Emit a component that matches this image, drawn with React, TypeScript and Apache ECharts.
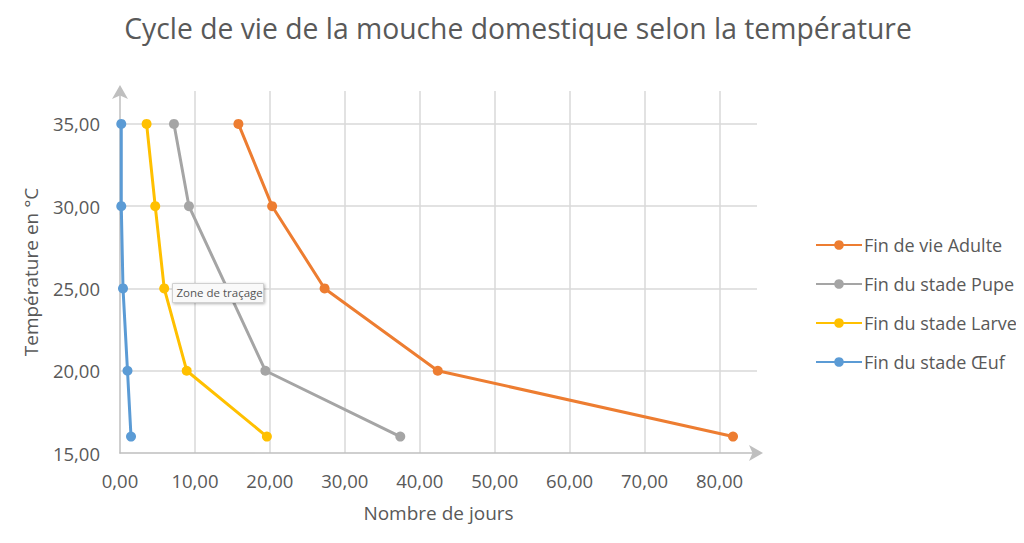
import React, { useEffect, useRef } from 'react';
import * as echarts from 'echarts';

// Temperatures (°C) shared by every stage
const temperatures = [35, 30, 25, 20, 16];

// Number of days, one per temperature
const adulteDays = [15.8, 20.3, 27.3, 42.4, 81.8];
const pupeDays = [7.2, 9.2, 14.3, 19.4, 37.4];
const larveDays = [3.55, 4.7, 5.9, 8.9, 19.6];
const oeufDays = [0.17, 0.17, 0.4, 1.0, 1.47];

const seriesNames = ['Fin de vie Adulte', 'Fin du stade Pupe', 'Fin du stade Larve', 'Fin du stade Œuf'];
const seriesColors = ['#ED7D31', '#A5A5A5', '#FFC000', '#5B9BD5'];

const FONT = "'Open Sans', 'Noto Sans', sans-serif";
const TEXT = '#595959';

const fmt = (v: number) => v.toFixed(2).replace('.', ',');

const App: React.FC = () => {
  const chartRef = useRef<HTMLDivElement>(null);

  useEffect(() => {
    if (!chartRef.current) return;
    const chart = echarts.init(chartRef.current, undefined, { renderer: 'svg' });

    const allDays = [adulteDays, pupeDays, larveDays, oeufDays];

    const option: echarts.EChartsOption = {
      animation: false,
      backgroundColor: '#ffffff',
      textStyle: { fontFamily: FONT },
      title: {
        text: 'Cycle de vie de la mouche domestique selon la température',
        left: 513,
        textAlign: 'center',
        top: 9,
        textStyle: { fontFamily: FONT, fontSize: 28.3, fontWeight: 'normal', color: TEXT },
      },
      legend: {
        orient: 'vertical',
        left: 810,
        top: 231,
        itemWidth: 46,
        itemHeight: 12,
        itemGap: 21,
        data: seriesNames,
        textStyle: { fontFamily: FONT, fontSize: 18, color: TEXT, padding: [0, 0, 0, -3] },
      },
      grid: { left: 120, right: 267, top: 91, bottom: 90 },
      xAxis: {
        type: 'value',
        min: 0,
        max: 85,
        interval: 10,
        name: 'Nombre de jours',
        nameLocation: 'middle',
        nameGap: 50,
        nameTextStyle: { fontFamily: FONT, fontSize: 19, color: TEXT },
        axisLine: {
          show: true,
          lineStyle: { color: '#BFBFBF', width: 1.5 },
          symbol: ['none', 'arrow'],
          symbolSize: [12, 14],
          symbolOffset: [0, 6],
        },
        axisTick: { show: false },
        axisLabel: {
          margin: 18,
          fontFamily: FONT,
          fontSize: 18.5,
          color: TEXT,
          showMaxLabel: false,
          formatter: (v: number) => (v % 10 === 0 ? fmt(v) : ''),
        },
        splitLine: { show: true, showMinLine: false, showMaxLine: false, lineStyle: { color: '#D9D9D9', width: 1.5 } },
      },
      yAxis: {
        type: 'value',
        min: 15,
        max: 37,
        interval: 5,
        name: 'Température en °C',
        nameLocation: 'middle',
        nameGap: 80,
        nameRotate: 90,
        nameTextStyle: { fontFamily: FONT, fontSize: 19, color: TEXT },
        axisLine: {
          show: true,
          lineStyle: { color: '#BFBFBF', width: 1.5 },
          symbol: ['none', 'arrow'],
          symbolSize: [12, 14],
          symbolOffset: [0, 6],
        },
        axisTick: { show: false },
        axisLabel: {
          margin: 20,
          fontFamily: FONT,
          fontSize: 18.5,
          color: TEXT,
          showMaxLabel: false,
          formatter: (v: number) => (v % 5 === 0 ? fmt(v) : ''),
        },
        splitLine: { show: true, showMinLine: false, showMaxLine: false, lineStyle: { color: '#D9D9D9', width: 1.5 } },
      },
      series: seriesNames.map((name, i) => ({
        name,
        type: 'line',
        data: allDays[i].map((d, j) => [d, temperatures[j]]),
        symbol: 'circle',
        symbolSize: 10,
        color: seriesColors[i],
        lineStyle: { width: 3, color: seriesColors[i] },
        itemStyle: { color: seriesColors[i] },
        z: 10 - i,
      })),
      graphic: [
        {
          type: 'group',
          left: 172,
          top: 283,
          z: 100,
          zlevel: 1,
          children: [
            {
              type: 'rect',
              z: 100,
              shape: { x: 0, y: 0, width: 91, height: 19 },
              style: { fill: '#F9F9F9', stroke: '#D0D0D0', lineWidth: 1, shadowBlur: 3, shadowColor: 'rgba(0,0,0,0.3)', shadowOffsetX: 1, shadowOffsetY: 1 },
            },
            {
              type: 'text',
              z: 101,
              x: 4,
              y: 3,
              style: { text: 'Zone de traçage', fontFamily: FONT, fontSize: 11.5, fill: '#555555' },
            },
          ],
        },
      ],
    };

    chart.setOption(option);

    const handleResize = () => chart.resize();
    window.addEventListener('resize', handleResize);
    return () => {
      window.removeEventListener('resize', handleResize);
      chart.dispose();
    };
  }, []);

  return <div ref={chartRef} style={{ width: 1024, height: 543, margin: -8 }} />;
};

export default App;
